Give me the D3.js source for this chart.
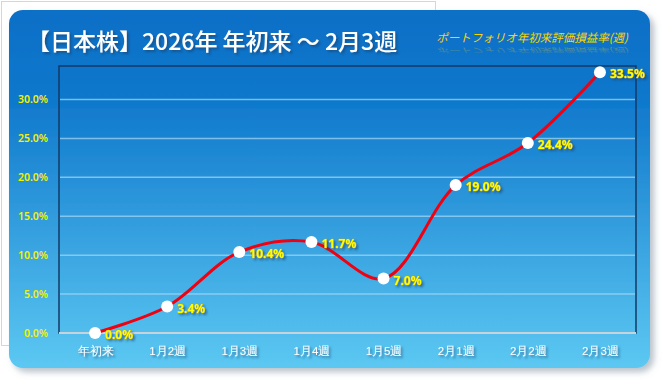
<!DOCTYPE html>
<html>
<head>
<meta charset="utf-8">
<script src="https://cdn.jsdelivr.net/npm/d3@7"></script>
<style>
  body { margin: 0; background: #fff; }
  svg { display: block; font-family: "Noto Sans CJK JP", "Noto Sans", sans-serif; }
</style>
</head>
<body>
<div class="canvas"></div>
<script>
const weeks = ['年初来', '1月2週', '1月3週', '1月4週', '1月5週', '2月1週', '2月2週', '2月3週']
const returns = [0.0, 3.4, 10.4, 11.7, 7.0, 19.0, 24.4, 33.5]
const yTicks = [0, 5, 10, 15, 20, 25, 30]

const title = '【日本株】2026年 年初来 ～ 2月3週'
const subtitle = 'ポートフォリオ年初来評価損益率(週)'

const dims = { width: 665, height: 384 }
const plot = { left: 59, right: 636, top: 66, bottom: 333 }

const svg = d3.select('.canvas')
    .append('svg')
    .attr('width', dims.width)
    .attr('height', dims.height)

const defs = svg.append('defs')

const bg = defs.append('linearGradient')
    .attr('id', 'bg').attr('x1', 0).attr('y1', 0).attr('x2', 0).attr('y2', 1)
bg.append('stop').attr('offset', '0%').attr('stop-color', '#0a6fc7')
bg.append('stop').attr('offset', '25%').attr('stop-color', '#0f78cc')
bg.append('stop').attr('offset', '100%').attr('stop-color', '#5cc8f2')

const shadow = defs.append('filter').attr('id', 'shadow')
    .attr('x', '-5%').attr('y', '-5%').attr('width', '115%').attr('height', '120%')
shadow.append('feGaussianBlur').attr('in', 'SourceAlpha').attr('stdDeviation', 3)
shadow.append('feOffset').attr('dx', 4).attr('dy', 4).attr('result', 'b')
shadow.append('feFlood').attr('flood-color', '#8090a0').attr('flood-opacity', 0.55)
shadow.append('feComposite').attr('in2', 'b').attr('operator', 'in')
const sm = shadow.append('feMerge')
sm.append('feMergeNode')
sm.append('feMergeNode').attr('in', 'SourceGraphic')

const txtShadow = defs.append('filter').attr('id', 'tshadow')
    .attr('x', '-10%').attr('y', '-30%').attr('width', '130%').attr('height', '170%')
txtShadow.append('feGaussianBlur').attr('in', 'SourceAlpha').attr('stdDeviation', 0.8)
txtShadow.append('feOffset').attr('dx', 1.5).attr('dy', 1.5).attr('result', 'b')
txtShadow.append('feFlood').attr('flood-color', '#1b3f66').attr('flood-opacity', 0.6)
txtShadow.append('feComposite').attr('in2', 'b').attr('operator', 'in')
const tm = txtShadow.append('feMerge')
tm.append('feMergeNode')
tm.append('feMergeNode').attr('in', 'SourceGraphic')

// fade for the subtitle reflection
const fade = defs.append('linearGradient')
    .attr('id', 'fade').attr('x1', 0).attr('y1', 0).attr('x2', 0).attr('y2', 1)
fade.append('stop').attr('offset', '0%').attr('stop-color', '#ffd400').attr('stop-opacity', 0)
fade.append('stop').attr('offset', '100%').attr('stop-color', '#ffd400').attr('stop-opacity', 0.45)

// background frame behind the card
svg.append('rect')
    .attr('x', 1.5).attr('y', 1.5).attr('width', 434).attr('height', 344)
    .attr('fill', '#fff').attr('stroke', '#d6d6d6')

// card
svg.append('rect')
    .attr('x', 9).attr('y', 10).attr('width', 641).attr('height', 358)
    .attr('rx', 14)
    .attr('fill', 'url(#bg)')
    .attr('filter', 'url(#shadow)')

// title
svg.append('text')
    .attr('x', 27).attr('y', 50)
    .attr('fill', '#fff')
    .attr('font-size', 23)
    .attr('font-weight', 500)
    .attr('filter', 'url(#tshadow)')
    .text(title)

// subtitle + reflection
svg.append('text')
    .attr('x', 628).attr('y', 42)
    .attr('text-anchor', 'end')
    .attr('fill', '#ffd400')
    .attr('font-size', 11.5)
    .attr('font-style', 'italic')
    .text(subtitle)
svg.append('text')
    .attr('transform', 'translate(628, 48) scale(1, -0.55)')
    .attr('text-anchor', 'end')
    .attr('fill', 'url(#fade)')
    .attr('font-size', 11.5)
    .attr('font-style', 'italic')
    .text(subtitle)

const x = d3.scalePoint()
    .domain(weeks)
    .range([plot.left, plot.right])
    .padding(0.5)

const y = d3.scaleLinear()
    .domain([0, 34.3])
    .range([plot.bottom, plot.top])

// plot area border
svg.append('rect')
    .attr('x', plot.left).attr('y', plot.top)
    .attr('width', plot.right - plot.left).attr('height', plot.bottom - plot.top)
    .attr('fill', 'none')
    .attr('stroke', '#123a66').attr('stroke-width', 1.5)

// gridlines
svg.append('g')
    .selectAll('line')
    .data(yTicks.filter(d => d > 0))
    .enter()
    .append('line')
    .attr('x1', plot.left + 1).attr('x2', plot.right - 1)
    .attr('y1', d => y(d)).attr('y2', d => y(d))
    .attr('stroke', '#9fd4f4').attr('stroke-opacity', 0.75).attr('stroke-width', 1.5)

// baseline
svg.append('line')
    .attr('x1', plot.left).attr('x2', plot.right)
    .attr('y1', y(0)).attr('y2', y(0))
    .attr('stroke', '#c9d3dc').attr('stroke-width', 2)

// y axis
const yAxis = d3.axisLeft(y)
    .tickValues(yTicks)
    .tickSize(0)
    .tickPadding(11)
    .tickFormat(d => d.toFixed(1) + '%')

svg.append('g')
    .attr('transform', `translate(${plot.left}, 0)`)
    .call(yAxis)
    .call(g => g.select('.domain').remove())
    .selectAll('text')
    .attr('fill', '#f5f000')
    .attr('font-size', 10.5)
    .attr('font-weight', 600)
    .attr('font-family', '"Noto Sans", sans-serif')

// x axis
const xAxis = d3.axisBottom(x).tickSize(0).tickPadding(14)

svg.append('g')
    .attr('transform', `translate(0, ${plot.bottom})`)
    .call(xAxis)
    .call(g => g.select('.domain').remove())
    .selectAll('text')
    .attr('fill', '#fff')
    .attr('font-size', 11.5)
    .attr('filter', 'url(#tshadow)')

// line
const line = d3.line()
    .x((d, i) => x(weeks[i]))
    .y(d => y(d))
    .curve(d3.curveCatmullRom.alpha(0.5))

svg.append('path')
    .datum(returns)
    .attr('d', line)
    .attr('fill', 'none')
    .attr('stroke', '#f00010')
    .attr('stroke-width', 3)

// markers
svg.append('g')
    .selectAll('circle')
    .data(returns)
    .enter()
    .append('circle')
    .attr('cx', (d, i) => x(weeks[i]))
    .attr('cy', d => y(d))
    .attr('r', 6)
    .attr('fill', '#fff')

// value labels
svg.append('g')
    .selectAll('text')
    .data(returns)
    .enter()
    .append('text')
    .attr('x', (d, i) => x(weeks[i]) + 10)
    .attr('y', d => y(d) + 6)
    .attr('fill', '#ffff00')
    .attr('stroke', '#c8a000')
    .attr('stroke-width', 0.6)
    .attr('paint-order', 'stroke')
    .attr('font-size', 12)
    .attr('font-weight', 'bold')
    .attr('font-family', '"Noto Sans", sans-serif')
    .attr('filter', 'url(#tshadow)')
    .text(d => d.toFixed(1) + '%')
</script>
</body>
</html>
